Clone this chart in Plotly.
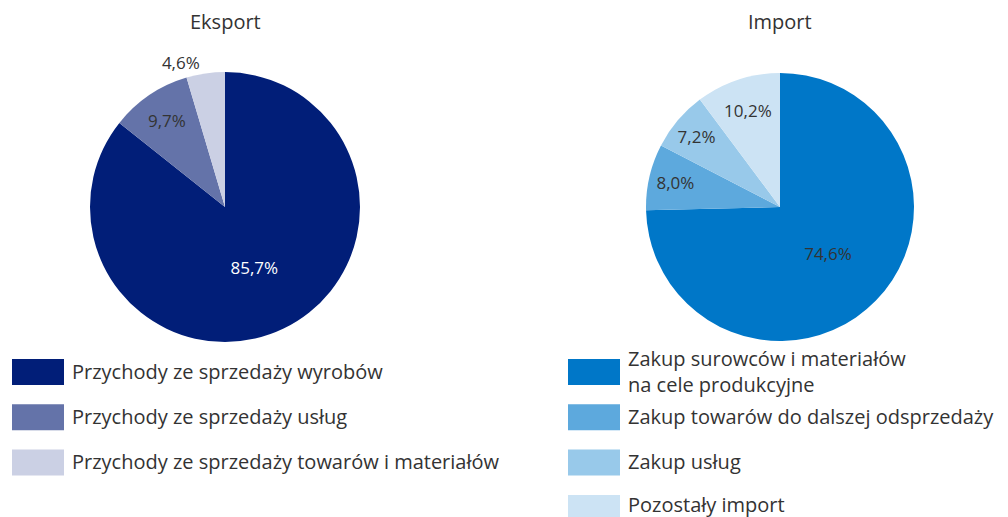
import plotly.graph_objects as go

export_labels = ["Przychody ze sprzedaży wyrobów",
                 "Przychody ze sprzedaży usług",
                 "Przychody ze sprzedaży towarów i materiałów"]
export_values = [85.7, 9.7, 4.6]
export_colors = ["#011E78", "#6473A9", "#CBD0E4"]

import_labels = ["Zakup surowców i materiałów<br>na cele produkcyjne",
                 "Zakup towarów do dalszej odsprzedaży",
                 "Zakup usług",
                 "Pozostały import"]
import_values = [74.6, 8.0, 7.2, 10.2]
import_colors = ["#0077C8", "#5DA9DD", "#98C9EA", "#CCE3F4"]

titles = ["Eksport", "Import"]

W, H = 1008, 517
FONT = "Open Sans"

fig = go.Figure()

fig.add_trace(go.Pie(
    labels=export_labels, values=export_values, sort=False, direction="clockwise",
    rotation=0, marker=dict(colors=export_colors, line=dict(width=0)),
    texttemplate="%{value:.1f}%", textinfo="text",
    textposition=["inside", "inside", "outside"],
    insidetextorientation="horizontal",
    textfont=dict(family=FONT, size=17, color=["#FFFFFF", "#333333", "#333333"]),
    domain=dict(x=[90 / W, 360 / W], y=[1 - 342 / H, 1 - 72 / H]),
    showlegend=False, hoverinfo="label+percent",
))

fig.add_trace(go.Pie(
    labels=import_labels, values=import_values, sort=False, direction="clockwise",
    rotation=0, marker=dict(colors=import_colors, line=dict(width=0)),
    texttemplate="%{value:.1f}%", textinfo="text",
    textposition="inside", insidetextorientation="horizontal",
    textfont=dict(family=FONT, size=17, color="#333333"),
    domain=dict(x=[646 / W, 914 / W], y=[1 - 342 / H, 1 - 72 / H]),
    showlegend=False, hoverinfo="label+percent",
))

annotations = []
shapes = []
for t, cx in zip(titles, [225, 780]):
    annotations.append(dict(text=t, x=cx / W, y=1 - 22 / H, xref="paper", yref="paper",
                            showarrow=False, xanchor="center", yanchor="middle",
                            font=dict(family=FONT, size=20, color="#333333")))

def legend(labels, colors, x0, y0, step):
    for i, (lab, col) in enumerate(zip(labels, colors)):
        top = y0 + i * step
        shapes.append(dict(type="rect", xref="paper", yref="paper",
                           x0=x0 / W, x1=(x0 + 52) / W,
                           y0=1 - (top + 26) / H, y1=1 - top / H,
                           fillcolor=col, line=dict(width=0)))
        cy = min(top + 12, H - 13)
        annotations.append(dict(text=lab, x=(x0 + 58) / W, y=1 - cy / H,
                                xref="paper", yref="paper", showarrow=False,
                                xanchor="left", yanchor="middle", align="left",
                                font=dict(family=FONT, size=20, color="#333333")))

legend(export_labels, export_colors, 12, 359, 45.3)
legend(import_labels, import_colors, 568, 359, 45.3)

fig.update_layout(
    width=W, height=H, margin=dict(l=0, r=0, t=0, b=0),
    paper_bgcolor="white", plot_bgcolor="white",
    separators=", ", annotations=annotations, shapes=shapes,
    font=dict(family=FONT),
)

fig.write_html("out.html", config={"displayModeBar": False},
               post_script="document.body.style.margin='0';document.body.style.overflow='hidden';")
